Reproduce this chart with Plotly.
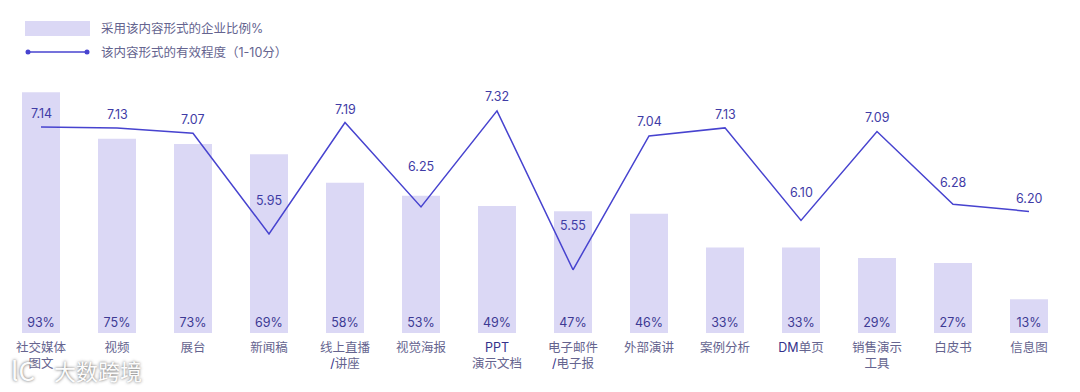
import plotly.graph_objects as go

categories = ["社交媒体<br>图文", "视频", "展台", "新闻稿", "线上直播<br><span style='color:#34318a'>/</span>讲座", "视觉海报",
              "<span style='color:#34318a'>PPT</span><br>演示文档", "电子邮件<br><span style='color:#34318a'>/</span>电子报", "外部演讲", "案例分析",
              "<span style='color:#34318a'>DM</span>单页", "销售演示<br>工具", "白皮书", "信息图"]
adoption = [93, 75, 73, 69, 58, 53, 49, 47, 46, 33, 33, 29, 27, 13]
effect = [7.14, 7.13, 7.07, 5.95, 7.19, 6.25, 7.32, 5.55, 7.04, 7.13, 6.10, 7.09, 6.28, 6.20]
effect_labels = ["7.14", "7.13", "7.07", "5.95", "7.19", "6.25", "7.32", "5.55", "7.04", "7.13", "6.10", "7.09", "6.28", "6.20"]
label_lift = [13, 13, 14, 33, 13, 40, 14, 44, 14, 13, 28, 14, 22, 13]
legend_names = ["采用该内容形式的企业比例%", "该内容形式的有效程度（1-10分）"]
watermark = "大数跨境"
watermark_logo = "lC"

W, H = 1080, 392
L, R, T, B = 3, 13, 74, 59
FONT = "Inter, 'Noto Sans CJK SC', sans-serif"
BAR = "#dbd8f5"
LINE = "#4743cf"
DARK = "#3d3a94"
GREY = "#65648f"
px = lambda x: (x - L) / (W - L - R)
py = lambda y: (H - B - y) / (H - T - B)

fig = go.Figure()
fig.add_trace(go.Bar(
    x=list(range(14)), y=adoption, width=0.5, marker=dict(color=BAR, line_width=0), name=legend_names[0],
    text=[f"{v}%" for v in adoption], textposition="inside", insidetextanchor="start", textangle=0,
    constraintext="none", textfont=dict(family=FONT, size=12.5, color=DARK), showlegend=False, cliponaxis=False))
fig.add_trace(go.Scatter(
    x=list(range(14)), y=effect, yaxis="y2", mode="lines", name=legend_names[1],
    line=dict(color=LINE, width=1.5), showlegend=False, cliponaxis=False))

ann = []
for i, (v, t, s) in enumerate(zip(effect, effect_labels, label_lift)):
    ann.append(dict(x=i, y=v, xref="x", yref="y2", text=t, showarrow=False, yshift=s,
                    font=dict(family=FONT, size=12.5, color="#3f3ca6")))
for y, name in zip((28.5, 53), legend_names):
    ann.append(dict(x=px(99), y=py(y), xref="paper", yref="paper", text=name, showarrow=False,
                    xanchor="left", yanchor="middle", font=dict(family=FONT, size=12.5, color=GREY)))
wm_font = dict(family="'Noto Sans CJK SC'", color="rgba(255,255,255,0.97)", shadow="0px 0px 3px rgba(70,70,70,0.9)")
ann.append(dict(x=px(52), y=py(370), xref="paper", yref="paper", text=watermark, showarrow=False,
                xanchor="left", yanchor="middle", font=dict(size=22, **wm_font)))
ann.append(dict(x=px(9), y=py(369), xref="paper", yref="paper", text=watermark_logo, showarrow=False,
                xanchor="left", yanchor="middle", font=dict(size=26, **wm_font)))

shapes = [
    dict(type="rect", xref="paper", yref="paper", x0=px(25), x1=px(90), y0=py(36), y1=py(21), fillcolor=BAR, line_width=0),
    dict(type="line", xref="paper", yref="paper", x0=px(28), x1=px(87), y0=py(52), y1=py(52), line=dict(color=LINE, width=1.5)),
    dict(type="circle", xref="paper", yref="paper", x0=px(25.5), x1=px(30.5), y0=py(54.5), y1=py(49.5), fillcolor=LINE, line_width=0),
    dict(type="circle", xref="paper", yref="paper", x0=px(84.5), x1=px(89.5), y0=py(54.5), y1=py(49.5), fillcolor=LINE, line_width=0),
]

fig.update_layout(
    width=W, height=H, autosize=False, margin=dict(l=L, r=R, t=T, b=B),
    paper_bgcolor="white", plot_bgcolor="white", showlegend=False, bargap=0.5,
    annotations=ann, shapes=shapes,
    xaxis=dict(tickmode="array", tickvals=list(range(14)), ticktext=categories, range=[-0.5, 13.5],
               showgrid=False, zeroline=False, showline=False, ticks="outside", ticklen=3, tickcolor="rgba(0,0,0,0)",
               tickangle=0, tickfont=dict(family=FONT, size=12.5, color=GREY)),
    yaxis=dict(range=[0, 100], visible=False, fixedrange=True),
    yaxis2=dict(range=[4.846, 7.73], visible=False, overlaying="y", fixedrange=True),
)
fig.write_html("out.html", config=dict(displayModeBar=False), post_script="document.body.style.margin='0';")
